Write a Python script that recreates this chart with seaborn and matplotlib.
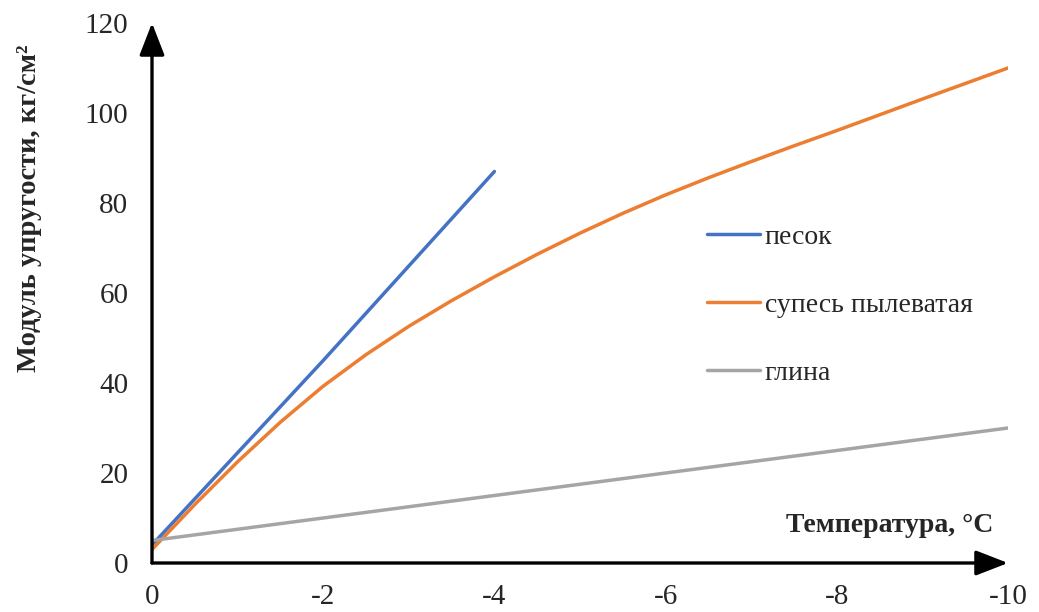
import matplotlib
matplotlib.use("Agg")
import matplotlib.pyplot as plt
import seaborn as sns
import pandas as pd

# Temperature (°C) and modulus of elasticity (kg/cm²) for each soil type
sand_t = [0, -1, -2, -3, -4]
sand_E = [4, 24.5, 45, 66, 87]

loam_t = [0, -0.5, -1, -1.5, -2, -2.5, -3, -3.5, -4, -4.5, -5, -5.5,
          -6, -6.5, -7, -7.5, -8, -9, -10]
loam_E = [3, 13, 22.5, 31.3, 39.3, 46.3, 52.6, 58.3, 63.6, 68.6, 73.3, 77.7,
          81.8, 85.6, 89.2, 92.7, 96.1, 103.1, 110]

clay_t = [0, -2, -4, -6, -8, -10]
clay_E = [5, 10, 15, 20, 25, 30]

labels = ["песок", "супесь пылеватая", "глина"]
colors = ["#4472C4", "#ED7D31", "#A5A5A5"]

x_ticks = [0, -2, -4, -6, -8, -10]
x_tick_labels = ["0", "-2", "-4", "-6", "-8", "-10"]
y_ticks = [0, 20, 40, 60, 80, 100, 120]

frames = []
for name, t, e in zip(labels, [sand_t, loam_t, clay_t], [sand_E, loam_E, clay_E]):
    frames.append(pd.DataFrame({"t": t, "E": e, "soil": name}))
df = pd.concat(frames, ignore_index=True)

sns.set_style("white")
plt.rcParams["font.family"] = ["Liberation Serif", "DejaVu Serif"]

fig = plt.figure(figsize=(10.39, 6.12), dpi=100)
ax = fig.add_axes([152 / 1039, 49 / 612, 856 / 1039, 540 / 612])

sns.lineplot(data=df, x="t", y="E", hue="soil", hue_order=labels,
             palette=colors, sort=False, linewidth=2.5, ax=ax)
for line in ax.get_lines():
    line.set_solid_capstyle("round")
    line.set_solid_joinstyle("round")

ax.set_xlim(0, -10)
ax.set_ylim(0, 120)
ax.set_xticks(x_ticks)
ax.set_xticklabels(x_tick_labels)
ax.set_yticks(y_ticks)
ax.tick_params(axis="both", length=0, labelsize=21)
ax.tick_params(axis="x", pad=15)
ax.tick_params(axis="y", pad=17)
ax.set_xlabel("")
ax.set_ylabel("")
for s in ax.spines.values():
    s.set_visible(False)

# Axes drawn as arrows
arrow = dict(arrowstyle="-|>,head_length=0.9,head_width=0.35", lw=2.4,
             color="black", mutation_scale=22, shrinkA=0, shrinkB=0)
ax.annotate("", xy=(0, 1), xytext=(0, 0), xycoords="axes fraction",
            arrowprops=arrow, annotation_clip=False)
ax.annotate("", xy=(1, 0), xytext=(0, 0), xycoords="axes fraction",
            arrowprops=arrow, annotation_clip=False)

handles, _ = ax.get_legend_handles_labels()
leg = ax.legend(handles=handles, labels=labels, loc="center left",
                bbox_to_anchor=(707 / 1039, 1 - 305 / 612),
                bbox_transform=fig.transFigure, frameon=False,
                fontsize=20, labelspacing=1.54, handlelength=1.9,
                handletextpad=0.18, borderpad=0, borderaxespad=0)

fig.text(30 / 1039, 1 - 208 / 612, "Модуль упругости, кг/см²", rotation=90,
         ha="center", va="center", fontsize=20.5, fontweight="bold")
fig.text(890 / 1039, 1 - 525 / 612, "Температура, °C", ha="center",
         va="center", fontsize=20, fontweight="bold")

fig.savefig("out.png", dpi=100, facecolor="white")
